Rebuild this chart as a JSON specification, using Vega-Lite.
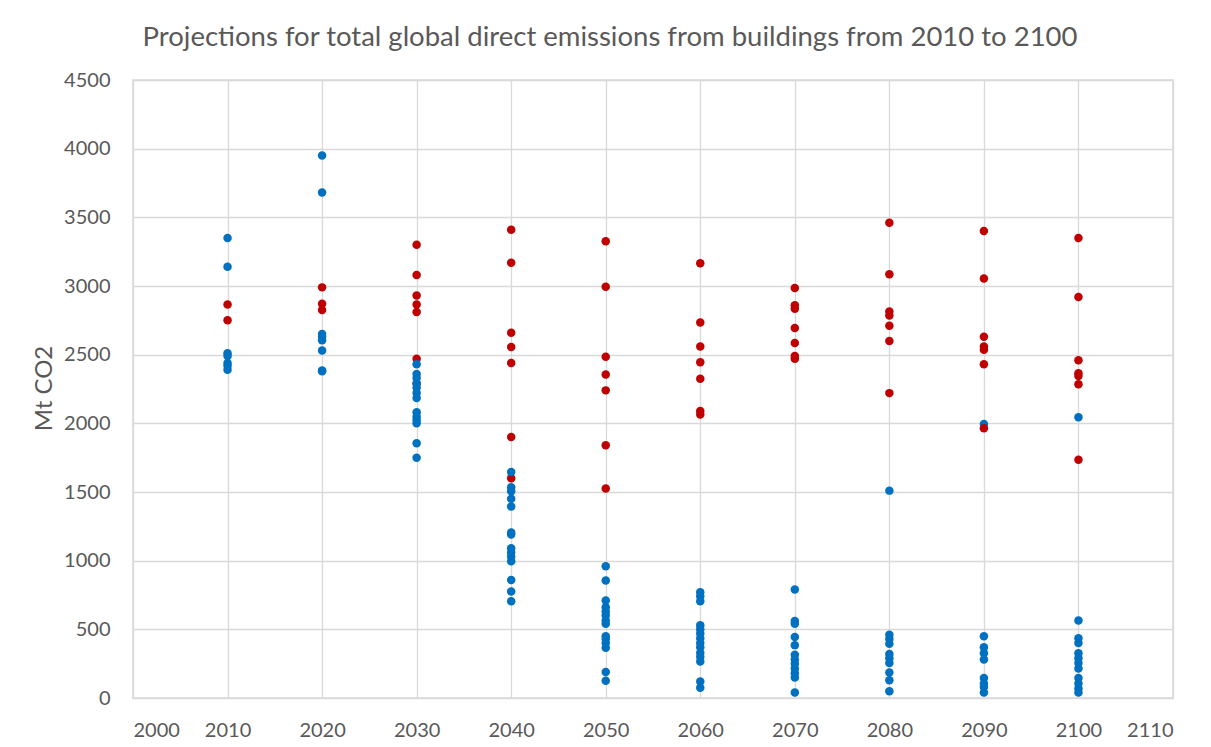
{
  "$schema": "https://vega.github.io/schema/vega-lite/v6.json",
  "autosize": {"type": "none"},
  "width": 1040,
  "height": 618,
  "padding": {"left": 133, "top": 80, "right": 39, "bottom": 49},
  "background": "white",
  "title": {
    "text": "Projections for total global direct emissions from buildings from 2010 to 2100",
    "font": "Lato",
    "fontSize": 27.5,
    "fontWeight": "normal",
    "color": "#595959",
    "anchor": "middle",
    "frame": "group",
    "dx": -43,
    "offset": 19
  },
  "config": {
    "view": {"stroke": "#d9d9d9", "strokeWidth": 1.5},
    "axis": {
      "labelFont": "Lato",
      "labelFontSize": 20,
      "labelColor": "#595959",
      "titleFont": "Lato",
      "titleFontSize": 24,
      "titleFontWeight": "normal",
      "titleColor": "#595959",
      "gridColor": "#d9d9d9",
      "gridWidth": 1.3,
      "ticks": false,
      "domain": false
    }
  },
  "data": {
    "values": [
      {"year": 2010, "emissions": 2865, "group": "Set 2"},
      {"year": 2010, "emissions": 2750, "group": "Set 2"},
      {"year": 2020, "emissions": 2990, "group": "Set 2"},
      {"year": 2020, "emissions": 2870, "group": "Set 2"},
      {"year": 2020, "emissions": 2825, "group": "Set 2"},
      {"year": 2030, "emissions": 3300, "group": "Set 2"},
      {"year": 2030, "emissions": 3080, "group": "Set 2"},
      {"year": 2030, "emissions": 2930, "group": "Set 2"},
      {"year": 2030, "emissions": 2865, "group": "Set 2"},
      {"year": 2030, "emissions": 2810, "group": "Set 2"},
      {"year": 2030, "emissions": 2470, "group": "Set 2"},
      {"year": 2030, "emissions": 2290, "group": "Set 2"},
      {"year": 2040, "emissions": 3410, "group": "Set 2"},
      {"year": 2040, "emissions": 3170, "group": "Set 2"},
      {"year": 2040, "emissions": 2660, "group": "Set 2"},
      {"year": 2040, "emissions": 2555, "group": "Set 2"},
      {"year": 2040, "emissions": 2440, "group": "Set 2"},
      {"year": 2040, "emissions": 1900, "group": "Set 2"},
      {"year": 2040, "emissions": 1600, "group": "Set 2"},
      {"year": 2050, "emissions": 3325, "group": "Set 2"},
      {"year": 2050, "emissions": 2995, "group": "Set 2"},
      {"year": 2050, "emissions": 2485, "group": "Set 2"},
      {"year": 2050, "emissions": 2355, "group": "Set 2"},
      {"year": 2050, "emissions": 2240, "group": "Set 2"},
      {"year": 2050, "emissions": 1840, "group": "Set 2"},
      {"year": 2050, "emissions": 1525, "group": "Set 2"},
      {"year": 2060, "emissions": 3165, "group": "Set 2"},
      {"year": 2060, "emissions": 2735, "group": "Set 2"},
      {"year": 2060, "emissions": 2560, "group": "Set 2"},
      {"year": 2060, "emissions": 2445, "group": "Set 2"},
      {"year": 2060, "emissions": 2325, "group": "Set 2"},
      {"year": 2060, "emissions": 2090, "group": "Set 2"},
      {"year": 2060, "emissions": 2065, "group": "Set 2"},
      {"year": 2070, "emissions": 2985, "group": "Set 2"},
      {"year": 2070, "emissions": 2860, "group": "Set 2"},
      {"year": 2070, "emissions": 2835, "group": "Set 2"},
      {"year": 2070, "emissions": 2695, "group": "Set 2"},
      {"year": 2070, "emissions": 2585, "group": "Set 2"},
      {"year": 2070, "emissions": 2490, "group": "Set 2"},
      {"year": 2070, "emissions": 2470, "group": "Set 2"},
      {"year": 2080, "emissions": 3460, "group": "Set 2"},
      {"year": 2080, "emissions": 3085, "group": "Set 2"},
      {"year": 2080, "emissions": 2815, "group": "Set 2"},
      {"year": 2080, "emissions": 2785, "group": "Set 2"},
      {"year": 2080, "emissions": 2710, "group": "Set 2"},
      {"year": 2080, "emissions": 2600, "group": "Set 2"},
      {"year": 2080, "emissions": 2220, "group": "Set 2"},
      {"year": 2090, "emissions": 3400, "group": "Set 2"},
      {"year": 2090, "emissions": 3055, "group": "Set 2"},
      {"year": 2090, "emissions": 2630, "group": "Set 2"},
      {"year": 2090, "emissions": 2560, "group": "Set 2"},
      {"year": 2090, "emissions": 2535, "group": "Set 2"},
      {"year": 2090, "emissions": 2430, "group": "Set 2"},
      {"year": 2100, "emissions": 3350, "group": "Set 2"},
      {"year": 2100, "emissions": 2920, "group": "Set 2"},
      {"year": 2100, "emissions": 2460, "group": "Set 2"},
      {"year": 2100, "emissions": 2365, "group": "Set 2"},
      {"year": 2100, "emissions": 2345, "group": "Set 2"},
      {"year": 2100, "emissions": 2285, "group": "Set 2"},
      {"year": 2100, "emissions": 1735, "group": "Set 2"},
      {"year": 2010, "emissions": 3350, "group": "Set 1"},
      {"year": 2010, "emissions": 3140, "group": "Set 1"},
      {"year": 2010, "emissions": 2510, "group": "Set 1"},
      {"year": 2010, "emissions": 2490, "group": "Set 1"},
      {"year": 2010, "emissions": 2440, "group": "Set 1"},
      {"year": 2010, "emissions": 2420, "group": "Set 1"},
      {"year": 2010, "emissions": 2390, "group": "Set 1"},
      {"year": 2020, "emissions": 3950, "group": "Set 1"},
      {"year": 2020, "emissions": 3680, "group": "Set 1"},
      {"year": 2020, "emissions": 2650, "group": "Set 1"},
      {"year": 2020, "emissions": 2630, "group": "Set 1"},
      {"year": 2020, "emissions": 2605, "group": "Set 1"},
      {"year": 2020, "emissions": 2530, "group": "Set 1"},
      {"year": 2020, "emissions": 2385, "group": "Set 1"},
      {"year": 2020, "emissions": 2380, "group": "Set 1"},
      {"year": 2030, "emissions": 2430, "group": "Set 1"},
      {"year": 2030, "emissions": 2360, "group": "Set 1"},
      {"year": 2030, "emissions": 2330, "group": "Set 1"},
      {"year": 2030, "emissions": 2290, "group": "Set 1"},
      {"year": 2030, "emissions": 2260, "group": "Set 1"},
      {"year": 2030, "emissions": 2220, "group": "Set 1"},
      {"year": 2030, "emissions": 2185, "group": "Set 1"},
      {"year": 2030, "emissions": 2080, "group": "Set 1"},
      {"year": 2030, "emissions": 2050, "group": "Set 1"},
      {"year": 2030, "emissions": 2025, "group": "Set 1"},
      {"year": 2030, "emissions": 2000, "group": "Set 1"},
      {"year": 2030, "emissions": 1855, "group": "Set 1"},
      {"year": 2030, "emissions": 1750, "group": "Set 1"},
      {"year": 2040, "emissions": 1645, "group": "Set 1"},
      {"year": 2040, "emissions": 1535, "group": "Set 1"},
      {"year": 2040, "emissions": 1505, "group": "Set 1"},
      {"year": 2040, "emissions": 1450, "group": "Set 1"},
      {"year": 2040, "emissions": 1395, "group": "Set 1"},
      {"year": 2040, "emissions": 1205, "group": "Set 1"},
      {"year": 2040, "emissions": 1190, "group": "Set 1"},
      {"year": 2040, "emissions": 1090, "group": "Set 1"},
      {"year": 2040, "emissions": 1060, "group": "Set 1"},
      {"year": 2040, "emissions": 1030, "group": "Set 1"},
      {"year": 2040, "emissions": 995, "group": "Set 1"},
      {"year": 2040, "emissions": 860, "group": "Set 1"},
      {"year": 2040, "emissions": 775, "group": "Set 1"},
      {"year": 2040, "emissions": 705, "group": "Set 1"},
      {"year": 2050, "emissions": 960, "group": "Set 1"},
      {"year": 2050, "emissions": 855, "group": "Set 1"},
      {"year": 2050, "emissions": 710, "group": "Set 1"},
      {"year": 2050, "emissions": 660, "group": "Set 1"},
      {"year": 2050, "emissions": 630, "group": "Set 1"},
      {"year": 2050, "emissions": 600, "group": "Set 1"},
      {"year": 2050, "emissions": 565, "group": "Set 1"},
      {"year": 2050, "emissions": 540, "group": "Set 1"},
      {"year": 2050, "emissions": 450, "group": "Set 1"},
      {"year": 2050, "emissions": 430, "group": "Set 1"},
      {"year": 2050, "emissions": 400, "group": "Set 1"},
      {"year": 2050, "emissions": 365, "group": "Set 1"},
      {"year": 2050, "emissions": 190, "group": "Set 1"},
      {"year": 2050, "emissions": 125, "group": "Set 1"},
      {"year": 2060, "emissions": 770, "group": "Set 1"},
      {"year": 2060, "emissions": 740, "group": "Set 1"},
      {"year": 2060, "emissions": 705, "group": "Set 1"},
      {"year": 2060, "emissions": 530, "group": "Set 1"},
      {"year": 2060, "emissions": 500, "group": "Set 1"},
      {"year": 2060, "emissions": 470, "group": "Set 1"},
      {"year": 2060, "emissions": 435, "group": "Set 1"},
      {"year": 2060, "emissions": 400, "group": "Set 1"},
      {"year": 2060, "emissions": 370, "group": "Set 1"},
      {"year": 2060, "emissions": 330, "group": "Set 1"},
      {"year": 2060, "emissions": 300, "group": "Set 1"},
      {"year": 2060, "emissions": 265, "group": "Set 1"},
      {"year": 2060, "emissions": 120, "group": "Set 1"},
      {"year": 2060, "emissions": 75, "group": "Set 1"},
      {"year": 2070, "emissions": 790, "group": "Set 1"},
      {"year": 2070, "emissions": 560, "group": "Set 1"},
      {"year": 2070, "emissions": 540, "group": "Set 1"},
      {"year": 2070, "emissions": 445, "group": "Set 1"},
      {"year": 2070, "emissions": 385, "group": "Set 1"},
      {"year": 2070, "emissions": 315, "group": "Set 1"},
      {"year": 2070, "emissions": 280, "group": "Set 1"},
      {"year": 2070, "emissions": 250, "group": "Set 1"},
      {"year": 2070, "emissions": 215, "group": "Set 1"},
      {"year": 2070, "emissions": 180, "group": "Set 1"},
      {"year": 2070, "emissions": 150, "group": "Set 1"},
      {"year": 2070, "emissions": 40, "group": "Set 1"},
      {"year": 2080, "emissions": 1510, "group": "Set 1"},
      {"year": 2080, "emissions": 460, "group": "Set 1"},
      {"year": 2080, "emissions": 430, "group": "Set 1"},
      {"year": 2080, "emissions": 395, "group": "Set 1"},
      {"year": 2080, "emissions": 320, "group": "Set 1"},
      {"year": 2080, "emissions": 290, "group": "Set 1"},
      {"year": 2080, "emissions": 255, "group": "Set 1"},
      {"year": 2080, "emissions": 185, "group": "Set 1"},
      {"year": 2080, "emissions": 130, "group": "Set 1"},
      {"year": 2080, "emissions": 50, "group": "Set 1"},
      {"year": 2090, "emissions": 1995, "group": "Set 1"},
      {"year": 2090, "emissions": 450, "group": "Set 1"},
      {"year": 2090, "emissions": 370, "group": "Set 1"},
      {"year": 2090, "emissions": 325, "group": "Set 1"},
      {"year": 2090, "emissions": 280, "group": "Set 1"},
      {"year": 2090, "emissions": 145, "group": "Set 1"},
      {"year": 2090, "emissions": 105, "group": "Set 1"},
      {"year": 2090, "emissions": 80, "group": "Set 1"},
      {"year": 2090, "emissions": 40, "group": "Set 1"},
      {"year": 2100, "emissions": 2045, "group": "Set 1"},
      {"year": 2100, "emissions": 565, "group": "Set 1"},
      {"year": 2100, "emissions": 435, "group": "Set 1"},
      {"year": 2100, "emissions": 400, "group": "Set 1"},
      {"year": 2100, "emissions": 325, "group": "Set 1"},
      {"year": 2100, "emissions": 290, "group": "Set 1"},
      {"year": 2100, "emissions": 255, "group": "Set 1"},
      {"year": 2100, "emissions": 215, "group": "Set 1"},
      {"year": 2100, "emissions": 145, "group": "Set 1"},
      {"year": 2100, "emissions": 105, "group": "Set 1"},
      {"year": 2100, "emissions": 70, "group": "Set 1"},
      {"year": 2100, "emissions": 40, "group": "Set 1"},
      {"year": 2090, "emissions": 1965, "group": "Set 2"}
    ]
  },
  "mark": {"type": "circle", "size": 72, "opacity": 1},
  "encoding": {
    "x": {
      "field": "year",
      "type": "quantitative",
      "scale": {"domain": [2000, 2110], "nice": false, "zero": false},
      "axis": {
        "title": null,
        "values": [2000, 2010, 2020, 2030, 2040, 2050, 2060, 2070, 2080, 2090, 2100, 2110],
        "format": "d",
        "labelPadding": 22
      }
    },
    "y": {
      "field": "emissions",
      "type": "quantitative",
      "scale": {"domain": [0, 4500], "nice": false},
      "axis": {
        "title": "Mt CO2",
        "values": [0, 500, 1000, 1500, 2000, 2500, 3000, 3500, 4000, 4500],
        "format": "d",
        "labelPadding": 23,
        "titleX": -89,
        "titleY": 308,
        "titleAngle": -90,
        "titleAlign": "center",
        "titleBaseline": "middle"
      }
    },
    "color": {
      "field": "group",
      "type": "nominal",
      "scale": {"domain": ["Set 1", "Set 2"], "range": ["#0070c0", "#c00000"]},
      "legend": null
    }
  }
}
